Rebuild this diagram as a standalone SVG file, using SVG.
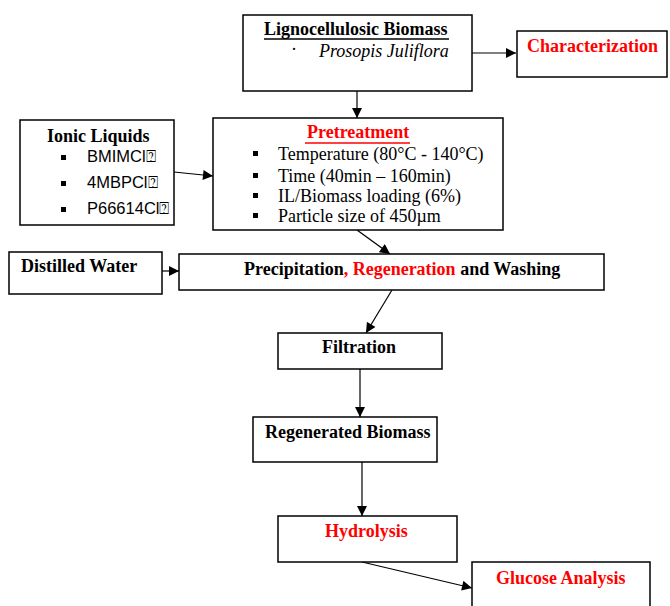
<svg xmlns="http://www.w3.org/2000/svg" width="670" height="606" viewBox="0 0 670 606">
<style>
.box{fill:#fff;stroke:#000;stroke-width:1.5}
.t{font-family:"Liberation Serif","Times New Roman",serif;font-size:18px;fill:#000}
.b{font-weight:bold}
.r{fill:#ff0000}
.s{font-family:"Liberation Sans",Arial,"DejaVu Sans",sans-serif;font-size:16.5px;fill:#000}
.ln{stroke:#000;stroke-width:1.2;fill:none;marker-end:url(#ah)}
</style>
<defs>
<marker id="ah" viewBox="0 0 10 10" refX="10" refY="5" markerWidth="11" markerHeight="10" markerUnits="userSpaceOnUse" orient="auto">
<path d="M0,0 L10,5 L0,10 z" fill="#000"/>
</marker>
</defs>
<rect width="670" height="606" fill="#fff"/>
<g id="connectors">
<line class="ln" x1="472" y1="53" x2="516" y2="53"/>
<line class="ln" x1="357" y1="91" x2="357" y2="118"/>
<line class="ln" x1="174" y1="172" x2="213" y2="176"/>
<line class="ln" x1="357" y1="230" x2="390" y2="254"/>
<line class="ln" x1="162" y1="271" x2="179" y2="271"/>
<line class="ln" x1="392" y1="290" x2="366" y2="333"/>
<line class="ln" x1="360" y1="369" x2="360" y2="417"/>
<line class="ln" x1="362" y1="462" x2="362" y2="516"/>
<line class="ln" x1="362" y1="562" x2="472" y2="588"/>
</g>
<g id="lignocellulosic">
<rect class="box" x="243" y="15" width="229" height="76"/>
<text class="t b" x="264" y="35">Lignocellulosic Biomass</text>
<line x1="264" y1="39" x2="449" y2="39" stroke="#000" stroke-width="1.5"/>
<text class="t" x="291" y="55" font-size="10">·</text>
<text class="t" x="319" y="57" font-style="italic">Prosopis Juliflora</text>
</g>
<g id="characterization">
<rect class="box" x="517" y="31" width="150" height="46"/>
<text class="t b r" x="527" y="52">Characterization</text>
</g>
<g id="ionic">
<rect class="box" x="20" y="120" width="154" height="105"/>
<text class="t b" x="47" y="142">Ionic Liquids</text>
<rect x="61" y="155" width="5" height="5"/>
<rect x="61" y="181" width="5" height="5"/>
<rect x="61" y="207" width="5" height="5"/>
<text class="s" x="87" y="162">BMIMCl⍰</text>
<text class="s" x="87" y="188">4MBPCl⍰</text>
<text class="s" x="87" y="214">P66614Cl⍰</text>
</g>
<g id="pretreatment">
<rect class="box" x="213" y="118" width="290" height="112"/>
<text class="t b r" x="307" y="138">Pretreatment</text>
<line x1="305" y1="143" x2="410" y2="143" stroke="#ff0000" stroke-width="1.5"/>
<rect x="253" y="151" width="5" height="5"/>
<rect x="253" y="173" width="5" height="5"/>
<rect x="253" y="193" width="5" height="5"/>
<rect x="253" y="213" width="5" height="5"/>
<text class="t" x="278" y="160">Temperature (80°C - 140°C)</text>
<text class="t" x="278" y="182">Time (40min – 160min)</text>
<text class="t" x="278" y="202">IL/Biomass loading (6%)</text>
<text class="t" x="278" y="222">Particle size of 450µm</text>
</g>
<g id="distilled">
<rect class="box" x="9" y="252" width="153" height="42"/>
<text class="t b" x="21" y="272">Distilled Water</text>
</g>
<g id="precipitation">
<rect class="box" x="179" y="254" width="425" height="36"/>
<text class="t b" x="244" y="275">Precipitation<tspan class="r">, Regeneration</tspan> and Washing</text>
</g>
<g id="filtration">
<rect class="box" x="278" y="333" width="164" height="36"/>
<text class="t b" x="322" y="353">Filtration</text>
</g>
<g id="regenerated">
<rect class="box" x="253" y="417" width="184" height="45"/>
<text class="t b" x="265" y="438">Regenerated Biomass</text>
</g>
<g id="hydrolysis">
<rect class="box" x="278" y="516" width="179" height="46"/>
<text class="t b r" x="325" y="537">Hydrolysis</text>
</g>
<g id="glucose">
<rect class="box" x="472" y="562" width="178" height="50"/>
<text class="t b r" x="496" y="584">Glucose Analysis</text>
</g>
</svg>
